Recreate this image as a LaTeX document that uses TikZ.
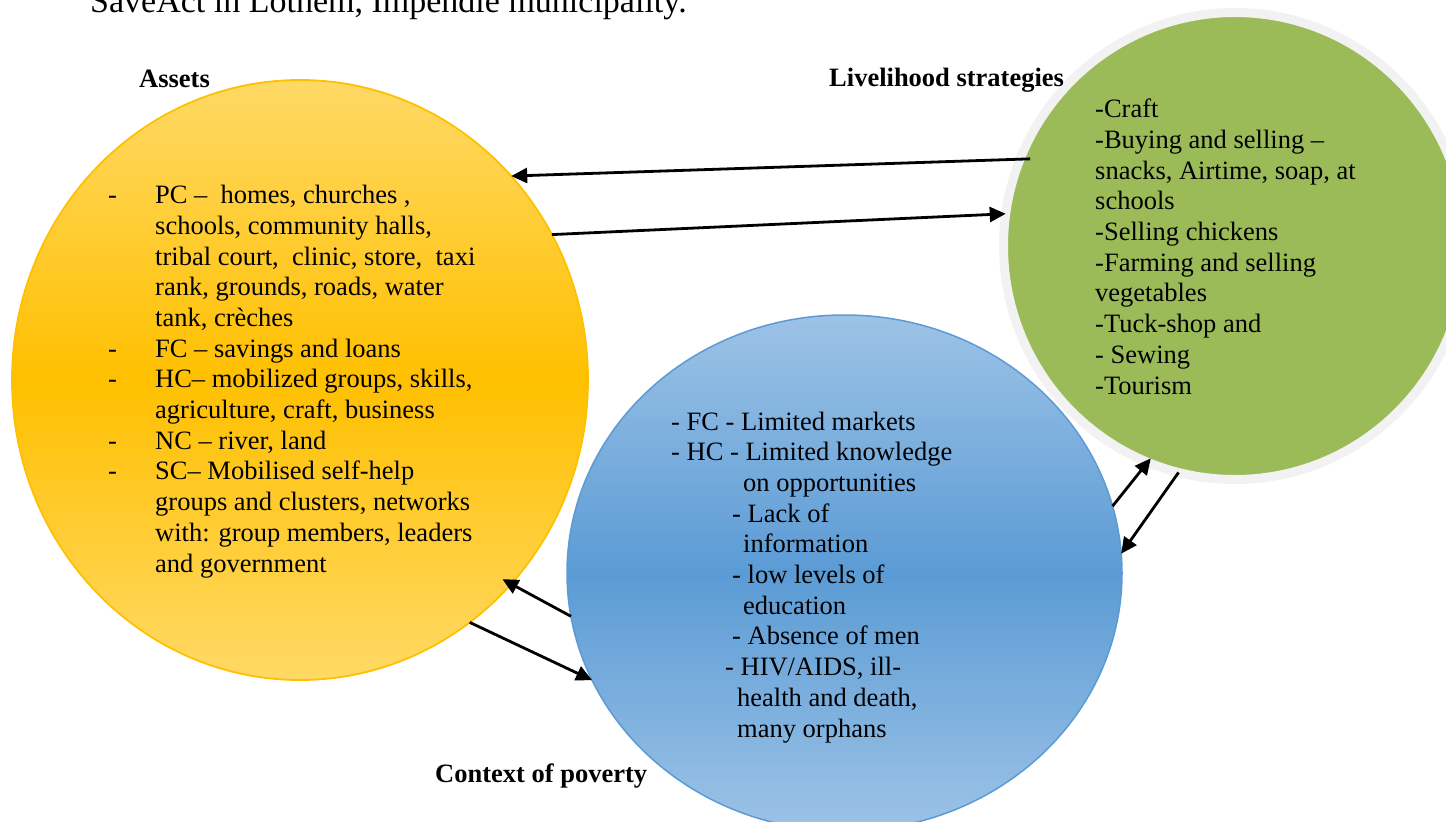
\documentclass[tikz,border=0pt]{standalone}
\usepackage{fontspec}
\setmainfont{Liberation Serif}
\usetikzlibrary{shapes.geometric,arrows.meta}

\definecolor{yelTop}{RGB}{255,217,102}
\definecolor{yelMid}{RGB}{255,192,0}
\definecolor{bluTop}{RGB}{157,195,230}
\definecolor{bluMid}{RGB}{91,155,213}
\definecolor{grnFill}{RGB}{155,187,89}
\definecolor{grnRing}{RGB}{242,242,242}

\tikzset{
  txt/.style={font=\fontsize{26.5}{30.67}\selectfont, align=left, inner sep=0, anchor=base west},
  lbl/.style={font=\fontsize{26.5}{30.67}\selectfont\bfseries, inner sep=0, anchor=base west},
  blob/.style={ellipse, inner sep=0, outer sep=0},
  arr/.style={line width=2.8pt, -{Triangle[length=16pt,width=15pt]}}
}

\begin{document}
\begin{tikzpicture}[x=1pt,y=-1pt]
\useasboundingbox (0,0) rectangle (1446,822);

% ---------- title line (cut at the top) ----------
\node[txt, font=\fontsize{34}{40}\selectfont] (title) at (90,12) {SaveAct in Lothem, Impendle municipality.};

% ---------- circles ----------
\node[blob, minimum width=463, minimum height=467, draw=grnRing, line width=9pt, fill=grnFill] (green) at (1235,246) {};
\node[blob, minimum width=555, minimum height=516, draw=bluMid, line width=1.5pt,
      top color=bluTop, bottom color=bluTop, middle color=bluMid] (blue) at (844.5,573) {};
\node[blob, minimum width=576, minimum height=600, draw=yelMid, line width=1.8pt,
      top color=yelTop, bottom color=yelTop, middle color=yelMid] (yel) at (300,380) {};

% ---------- headings ----------
\node[lbl] (assets) at (139,87) {Assets};
\node[lbl] (strat) at (829,86) {Livelihood strategies};
\node[lbl] (context) at (435,782) {Context of poverty};

% ---------- Assets (anchored at the last line) ----------
\node[txt] (assetlist) at (108,572) {%
\makebox[47pt][l]{-}PC --\ \ homes, churches ,\\
\hspace*{47pt}schools, community halls,\\
\hspace*{47pt}tribal court,\ \ clinic, store,\ \ taxi\\
\hspace*{47pt}rank, grounds, roads, water\\
\hspace*{47pt}tank, crèches\\
\makebox[47pt][l]{-}FC -- savings and loans\\
\makebox[47pt][l]{-}HC-- mobilized groups, skills,\\
\hspace*{47pt}agriculture, craft, business\\
\makebox[47pt][l]{-}NC -- river, land\\
\makebox[47pt][l]{-}SC-- Mobilised self-help\\
\hspace*{47pt}groups and clusters, networks\\
\hspace*{47pt}with: group members, leaders\\
\hspace*{47pt}and government};

% ---------- Strategies ----------
\node[txt] (stratlist) at (1095,394) {%
-Craft\\
-Buying and selling --\\
snacks, Airtime, soap, at\\
schools\\
-Selling chickens\\
-Farming and selling\\
vegetables\\
-Tuck-shop and\\
- Sewing\\
-Tourism};

% ---------- Poverty ----------
\node[txt] (povlist) at (671,737) {%
- FC - Limited markets\\
- HC - Limited knowledge\\
\hspace*{72pt}on opportunities\\
\hspace*{61pt}- Lack of\\
\hspace*{72pt}information\\
\hspace*{61pt}- low levels of\\
\hspace*{72pt}education\\
\hspace*{61pt}- Absence of men\\
\hspace*{54pt}- HIV/AIDS, ill-\\
\hspace*{66pt}health and death,\\
\hspace*{66pt}many orphans};

% ---------- arrows ----------
\draw[arr, shorten <=-10pt] (green.158) -- (yel.44);
\draw[arr] (yel.30.6) -- (green.172);
\draw[arr, shorten >=-5pt] (blue.14) -- (green.-112.5);
\draw[arr] (green.-104.6) -- (blue.4.6);
\draw[arr, shorten >=-10pt] (blue.189.4) -- (yel.-44.6);
\draw[arr] (yel.-55) -- (blue.203);

\end{tikzpicture}
\end{document}
